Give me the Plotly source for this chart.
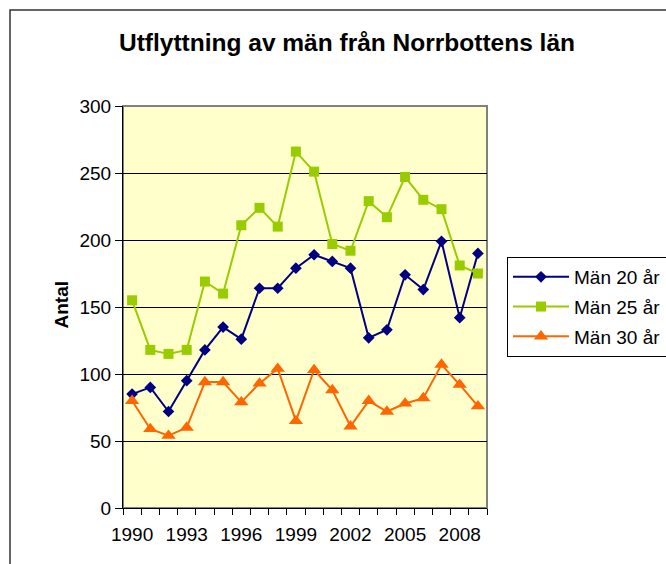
import plotly.graph_objects as go

years = list(range(1990, 2010))
man20 = [85, 90, 72, 95, 118, 135, 126, 164, 164, 179, 189, 184, 179, 127, 133, 174, 163, 199, 142, 190]
man25 = [155, 118, 115, 118, 169, 160, 211, 224, 210, 266, 251, 197, 192, 229, 217, 247, 230, 223, 181, 175]
man30 = [80, 59, 54, 60, 94, 94, 79, 93, 104, 65, 103, 88, 61, 80, 72, 78, 82, 107, 92, 76]
series_names = ["Män 20 år", "Män 25 år", "Män 30 år"]
label_years = [1990, 1993, 1996, 1999, 2002, 2005, 2008]
y_ticks = [0, 50, 100, 150, 200, 250, 300]

FONT = "Liberation Sans, Arial, sans-serif"
W, H = 666, 564
L, R, T, B = 123, 487, 106, 508
FS = 19

fig = go.Figure()
styles = [
    dict(color="#000080", symbol="diamond", size=9),
    dict(color="#99CC00", symbol="square", size=10),
    dict(color="#FF6600", symbol="triangle-up", size=12.5),
]
for name, vals, st in zip(series_names, [man20, man25, man30], styles):
    fig.add_trace(go.Scatter(
        x=years, y=vals, name=name, mode="lines+markers", legendgroup=name,
        line=dict(color=st["color"], width=2),
        marker=dict(color=st["color"], symbol=st["symbol"], size=st["size"]),
        cliponaxis=False,
    ))

fig.update_layout(
    width=W, height=H,
    margin=dict(l=L, r=W - R, t=T, b=H - B, pad=0, autoexpand=False),
    paper_bgcolor="white",
    plot_bgcolor="#FFFFCC",
    font=dict(family=FONT, size=FS, color="black"),
    title=dict(text="<b>Utflyttning av män från Norrbottens län</b>",
               x=347 / W, xanchor="center", y=1 - 42 / H, yanchor="middle",
               font=dict(family=FONT, size=24.5, color="black")),
    showlegend=True,
    legend=dict(x=(507 - L) / (R - L), xanchor="left",
                y=(B - 257) / (B - T), yanchor="top",
                bgcolor="white", bordercolor="black", borderwidth=1,
                font=dict(family=FONT, size=FS, color="black"),
                itemwidth=56, tracegroupgap=2),
)

fig.update_xaxes(
    range=[1989.5, 2009.5],
    tickmode="array", tickvals=label_years, ticktext=[str(y) for y in label_years],
    ticks="outside", ticklen=9, tickcolor="rgba(0,0,0,0)",
    showgrid=False, zeroline=False,
    showline=True, linecolor="black", linewidth=1,
    tickfont=dict(family=FONT, size=FS, color="black"),
    minor=dict(tickmode="array", tickvals=[y - 0.5 for y in years] + [2009.5],
               ticks="outside", ticklen=6, tickcolor="black", tickwidth=1, showgrid=False),
)
fig.update_yaxes(
    range=[0, 300], tickmode="array", tickvals=y_ticks,
    ticks="outside", ticklen=7, tickcolor="black", tickwidth=1,
    showgrid=True, gridcolor="black", gridwidth=1, zeroline=False,
    showline=True, linecolor="black", linewidth=1,
    tickfont=dict(family=FONT, size=FS, color="black"),
)

# plot area border (gray, top/right)
fig.add_shape(type="rect", xref="paper", yref="paper", x0=0, x1=1, y0=0, y1=1,
              line=dict(color="#808080", width=2), layer="below")
# outer chart border
fig.add_shape(type="rect", xref="paper", yref="paper",
              x0=(10 - L) / (R - L), x1=(672 - L) / (R - L),
              y0=(B - 570) / (B - T), y1=(B - 10) / (B - T),
              line=dict(color="#333333", width=1.5), layer="below")

fig.add_annotation(text="<b>Antal</b>", xref="paper", yref="paper",
                   x=(48 - L) / (R - L), y=(B - 305) / (B - T),
                   textangle=-90, showarrow=False,
                   font=dict(family=FONT, size=FS, color="black"))

fig.write_html("out.html", config={"displayModeBar": False},
               post_script="document.body.style.margin='0';")
